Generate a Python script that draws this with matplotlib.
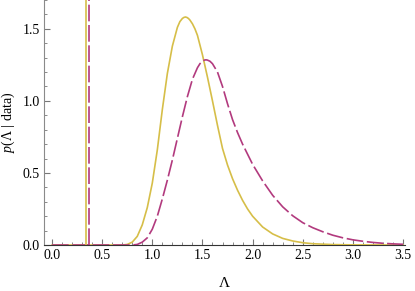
import numpy as np
import matplotlib
matplotlib.use('Agg')
import matplotlib.pyplot as plt
from matplotlib.ticker import MultipleLocator

plt.rcParams['font.family'] = 'Liberation Serif'
plt.rcParams['mathtext.fontset'] = 'custom'
plt.rcParams['mathtext.rm'] = 'Liberation Serif'
plt.rcParams['mathtext.it'] = 'Liberation Serif:italic'

# posterior curves
lam_a = [0.0, 0.70, 0.75, 0.80, 0.85, 0.90, 0.95, 1.00, 1.05, 1.10, 1.15, 1.20, 1.25,
         1.275, 1.30, 1.315, 1.33, 1.345, 1.36, 1.375, 1.40, 1.425, 1.45, 1.50, 1.55,
         1.60, 1.65, 1.70, 1.75, 1.80, 1.85, 1.90, 1.95, 2.00, 2.10, 2.20, 2.30, 2.40,
         2.50, 2.60, 2.80, 3.00, 3.50]
p_a = [0.0, 0.0, 0.004, 0.02, 0.06, 0.14, 0.26, 0.43, 0.66, 0.94, 1.19, 1.38, 1.51,
       1.55, 1.572, 1.579, 1.582, 1.579, 1.572, 1.561, 1.535, 1.50, 1.455, 1.32, 1.165,
       1.00, 0.83, 0.67, 0.555, 0.46, 0.38, 0.31, 0.25, 0.20, 0.125, 0.077, 0.046, 0.028,
       0.016, 0.009, 0.003, 0.001, 0.0]

lam_b = [0.0, 0.80, 0.85, 0.90, 0.95, 1.00, 1.05, 1.10, 1.15, 1.20, 1.25, 1.30, 1.35,
         1.40, 1.45, 1.475, 1.50, 1.52, 1.535, 1.55, 1.575, 1.60, 1.65, 1.70, 1.75,
         1.80, 1.85, 1.90, 1.95, 2.00, 2.10, 2.20, 2.30, 2.40, 2.50, 2.60, 2.70, 2.80,
         2.90, 3.00, 3.10, 3.20, 3.30, 3.40, 3.50]
p_b = [0.0, 0.0, 0.004, 0.02, 0.05, 0.11, 0.20, 0.32, 0.45, 0.59, 0.74, 0.89, 1.03,
       1.15, 1.23, 1.258, 1.276, 1.283, 1.285, 1.283, 1.275, 1.258, 1.20, 1.10, 0.98,
       0.87, 0.78, 0.70, 0.63, 0.56, 0.445, 0.345, 0.265, 0.203, 0.155, 0.12, 0.092,
       0.068, 0.05, 0.036, 0.026, 0.018, 0.012, 0.008, 0.005]

spike_a = 0.34
spike_b = 0.37

col_a = '#D6BE48'
col_b = '#B23A7E'

fig = plt.figure(figsize=(4.15, 2.91), dpi=100)
ax = fig.add_axes([0.106, 0.158, 0.870, 0.842])

ax.plot(lam_a, p_a, color=col_a, lw=1.2, zorder=3)
ax.plot(lam_b, p_b, color=col_b, lw=1.2, dashes=(10, 2.2), zorder=3)
ax.axvline(spike_a, color=col_a, lw=1.2, zorder=3)
ax.axvline(spike_b, color=col_b, lw=1.2, dashes=(10, 2.2), zorder=3)

ax.set_xlim(-0.08, 3.52)
ax.set_ylim(0, 1.70)

for s in ['top', 'right']:
    ax.spines[s].set_visible(False)
ax.spines['left'].set_color('#8a8a8a')
ax.spines['bottom'].set_color('#333333')

ax.xaxis.set_major_locator(MultipleLocator(0.5))
ax.xaxis.set_minor_locator(MultipleLocator(0.1))
ax.yaxis.set_major_locator(MultipleLocator(0.5))
ax.yaxis.set_minor_locator(MultipleLocator(0.1))
ax.tick_params(which='major', direction='in', length=4, width=0.8, color='#777777', labelsize=10, pad=3)
ax.tick_params(which='minor', direction='in', length=2, width=0.6, color='#777777')
ax.set_xticks([0, 0.5, 1, 1.5, 2, 2.5, 3, 3.5])
ax.set_xticklabels(['0.0', '0.5', '1.0', '1.5', '2.0', '2.5', '3.0', '3.5'])
ax.set_yticks([0, 0.5, 1.0, 1.5])
ax.set_yticklabels(['0.0', '0.5', '1.0', '1.5'])

ax.set_xlabel(r'$\mathit{\Lambda}$', fontsize=11, labelpad=10)
ax.set_ylabel(r'$\mathit{p}(\mathit{\Lambda}$ | data)', fontsize=10, labelpad=4)

fig.savefig('out.png', dpi=100)
